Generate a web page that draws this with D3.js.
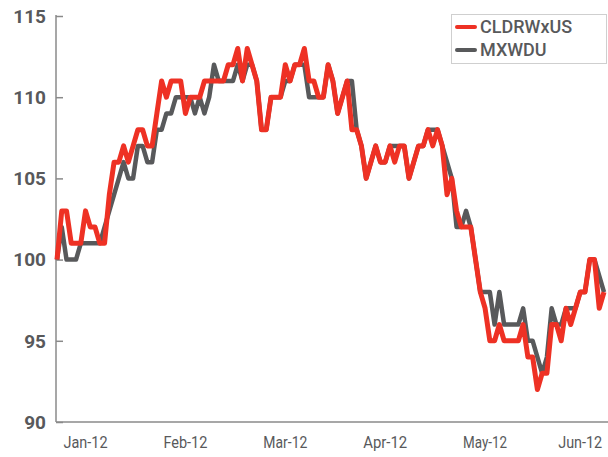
<!DOCTYPE html>
<html lang="en">
<head>
	<meta charset="utf-8">
	<title>CLDRWxUS vs MXWDU</title>
	<script src="https://cdn.jsdelivr.net/npm/d3@7"></script>
	<style>
		body { margin: 0; background: #fff; }
		text { font-family: Roboto, "DejaVu Sans", sans-serif; fill: #58595b; }
	</style>
</head>
<body>
<script>
// series (daily index levels, rebased to 100)
var cldrw = [100, 103, 103, 101, 101, 101, 103, 102, 102, 101,
	101, 104, 106, 106, 107, 106, 107, 108, 108, 107,
	107, 109, 111, 110, 111, 111, 111, 109, 110, 110,
	110, 111, 111, 111, 111, 111, 112, 112, 113, 111,
	113, 112, 111, 108, 108, 110, 110, 110, 112, 111,
	112, 112, 113, 111, 111, 110, 110, 112, 111, 109,
	110, 111, 108, 108, 107, 105, 106, 107, 106, 106,
	107, 106, 107, 107, 105, 106, 107, 107, 108, 107,
	108, 107, 104, 105, 103, 102, 102, 102, 100, 98,
	97, 95, 95, 96, 95, 95, 95, 95, 96, 94,
	94, 92, 93, 93, 96, 96, 95, 97, 96, 97,
	98, 98, 100, 100, 97, 98];

var mxwdu = [100, 102, 100, 100, 100, 101, 101, 101, 101, 101,
	102, 103, 104, 105, 106, 105, 105, 107, 107, 106,
	106, 108, 108, 109, 109, 110, 110, 110, 110, 109,
	110, 109, 110, 112, 111, 111, 111, 111, 112, 111,
	112, 112, 111, 108, 108, 110, 110, 110, 111, 111,
	112, 112, 112, 110, 110, 110, 110, 112, 111, 109,
	110, 111, 111, 108, 107, 105, 106, 107, 106, 106,
	107, 107, 107, 107, 105, 106, 107, 107, 108, 108,
	108, 107, 106, 105, 102, 102, 103, 102, 100, 98,
	98, 98, 96, 98, 96, 96, 96, 96, 97, 95,
	95, 94, 93, 94, 97, 96, 96, 97, 97, 97,
	98, 98, 100, 100, 99, 98];

var seriesNames = ["CLDRWxUS", "MXWDU"];
var seriesColors = ["#ee3124", "#58595b"];

var monthLabels = ["Jan-12", "Feb-12", "Mar-12", "Apr-12", "May-12", "Jun-12"];
var monthIdx = [6, 27, 48, 69, 90, 110];
var yTicks = [90, 95, 100, 105, 110, 115];

var w = 608, h = 457;
var margin = { top: 16, right: 4, bottom: 35, left: 57 };

var svg = d3.select("body").append("svg")
	.attr("width", w)
	.attr("height", h);

var xScale = d3.scaleLinear()
	.domain([0, cldrw.length - 1])
	.range([margin.left, w - margin.right]);

var yScale = d3.scaleLinear()
	.domain([90, 115])
	.range([h - margin.bottom, margin.top]);

// y axis: line, inward ticks, bold labels
var yAxis = d3.axisRight(yScale)
	.tickValues(yTicks)
	.tickSize(7)
	.tickFormat("");

svg.append("g")
	.attr("transform", "translate(" + (margin.left - 1) + ",0)")
	.call(yAxis)
	.call(function (g) {
		g.select(".domain").attr("stroke", "#8a8a8a").attr("stroke-width", 1.5)
			.attr("d", "M0," + (margin.top - 1) + "V" + yScale(90));
		g.selectAll(".tick line").attr("stroke", "#8a8a8a").attr("stroke-width", 1.5);
	});

svg.selectAll(".ylab")
	.data(yTicks)
	.enter()
	.append("text")
	.attr("class", "ylab")
	.attr("x", margin.left - 11)
	.attr("y", function (d) { return yScale(d); })
	.attr("dy", "0.36em")
	.attr("text-anchor", "end")
	.attr("font-size", "19px")
	.attr("font-weight", "bold")
	.text(function (d) { return d; });

// x axis baseline
svg.append("line")
	.attr("x1", margin.left - 1)
	.attr("x2", w)
	.attr("y1", yScale(90))
	.attr("y2", yScale(90))
	.attr("stroke", "#8a8a8a")
	.attr("stroke-width", 1.5);

svg.selectAll(".xlab")
	.data(monthLabels)
	.enter()
	.append("text")
	.attr("class", "xlab")
	.attr("x", function (d, i) { return xScale(monthIdx[i]); })
	.attr("y", yScale(90) + 26)
	.attr("text-anchor", "middle")
	.attr("font-size", "16px")
	.attr("textLength", 44)
	.attr("lengthAdjust", "spacingAndGlyphs")
	.text(function (d) { return d; });

// lines: gray under red
var line = d3.line()
	.x(function (d, i) { return xScale(i); })
	.y(function (d) { return yScale(d); });

svg.append("path")
	.datum(mxwdu)
	.attr("fill", "none")
	.attr("stroke", seriesColors[1])
	.attr("stroke-width", 4.5)
	.attr("stroke-linejoin", "round")
	.attr("d", line);

svg.append("path")
	.datum(cldrw)
	.attr("fill", "none")
	.attr("stroke", seriesColors[0])
	.attr("stroke-width", 5)
	.attr("stroke-linejoin", "round")
	.attr("d", line);

// legend
var legend = svg.append("g").attr("transform", "translate(451,14)");

legend.append("rect")
	.attr("x", 0.5)
	.attr("y", 0.5)
	.attr("width", 155)
	.attr("height", 49)
	.attr("fill", "#fff")
	.attr("stroke", "#cfcfcf");

var items = legend.selectAll(".item")
	.data(seriesNames)
	.enter()
	.append("g")
	.attr("transform", function (d, i) { return "translate(0," + (13 + i * 23) + ")"; });

items.append("line")
	.attr("x1", 6)
	.attr("x2", 24)
	.attr("stroke", function (d, i) { return seriesColors[i]; })
	.attr("stroke-width", 4)
	.attr("stroke-linecap", "round");

items.append("text")
	.attr("x", 29)
	.attr("dy", "0.36em")
	.attr("font-size", "18px")
	.attr("font-weight", 500)
	.text(function (d) { return d; });
</script>
</body>
</html>
